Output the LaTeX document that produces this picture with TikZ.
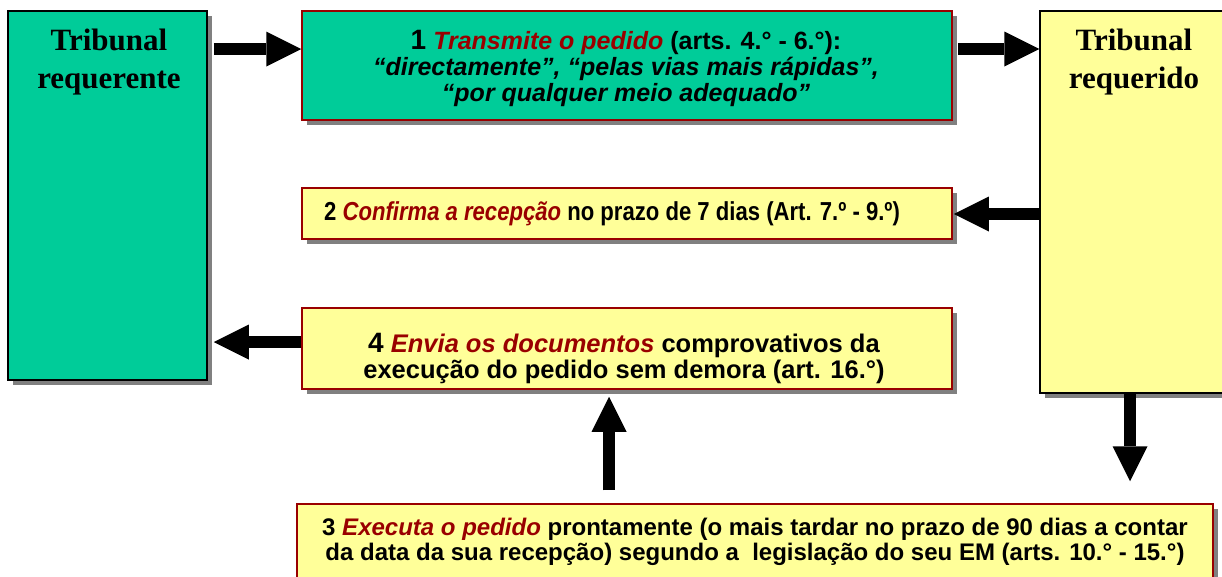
\documentclass[tikz,border=0pt]{standalone}
\usepackage{fontspec}
\setmainfont{Liberation Serif}
\setsansfont{Liberation Sans}
\newfontfamily\narrowsans[FakeStretch=0.85]{Liberation Sans}
\usetikzlibrary{arrows.meta,shadows}

\definecolor{boxgreen}{RGB}{0,204,153}
\definecolor{boxyellow}{RGB}{255,255,153}
\definecolor{stepred}{RGB}{153,0,0}
\definecolor{shadowgray}{RGB}{128,128,128}
\newcommand{\keyword}[1]{\textcolor{stepred}{\itshape #1}}

\begin{document}
\begin{tikzpicture}[x=1pt, y=-1pt,
    boxshadow/.style={drop shadow={shadow xshift=5pt, shadow yshift=-5pt, fill=shadowgray, opacity=1}},
    court/.style={draw=black, line width=1.5pt, boxshadow, inner sep=0pt},
    stepbox/.style={draw=stepred, line width=1.5pt, fill=boxyellow, boxshadow, inner sep=0pt},
    courttext/.style={font=\bfseries\fontsize{31}{38}\selectfont, align=center},
    steptext/.style={font=\sffamily\bfseries\fontsize{25}{26}\selectfont, align=center},
    blockarrow/.style={line width=12pt, -{Triangle[length=35pt, width=35pt, line width=0pt 0 0]}}]
  \useasboundingbox (0,0) rectangle (1222,576);
  % the two courts
  \node[court, fill=boxgreen, minimum width=199pt, minimum height=369pt] (req) at (107.5,195.5) {};
  \node[court, fill=boxyellow, minimum width=188pt, minimum height=382pt] (reqd) at (1134,202) {};
  \node[courttext] (reqtext) at (109,62) {Tribunal\\requerente};
  \node[courttext] (reqdtext) at (1134,62) {Tribunal\\requerido};
  % the four steps
  \node[stepbox, fill=boxgreen, minimum width=650pt, minimum height=109pt] (pedido) at (627,65.5) {};
  \node[stepbox, minimum width=650pt, minimum height=51pt] (confirma) at (627,213.5) {};
  \node[stepbox, minimum width=650pt, minimum height=81pt] (envia) at (627,348.5) {};
  \node[stepbox, minimum width=916pt, minimum height=86pt] (executa) at (755,547) {};
  \node[steptext] (pedidotext) at (626,68) {{\fontsize{28}{26}\selectfont 1} \keyword{Transmite o pedido} (arts. 4.° - 6.°):\\
    \itshape “directamente”, “pelas vias mais rápidas”,\\
    \itshape “por qualquer meio adequado”};
  \node[steptext, font=\narrowsans\bfseries\fontsize{26}{28}\selectfont] (confirmatext) at (612,213.5) {2 \keyword{Confirma a recepção} no prazo de 7 dias (Art. 7.º - 9.º)};
  \node[steptext, font=\sffamily\bfseries\fontsize{25.5}{26}\selectfont] (enviatext) at (624,359) {{\fontsize{28}{26}\selectfont 4} \keyword{Envia os documentos} comprovativos da\\
    execução do pedido sem demora (art. 16.°)};
  \node[steptext, font=\sffamily\bfseries\fontsize{24}{25}\selectfont] (executatext) at (755,542) {3 \keyword{Executa o pedido} prontamente (o mais tardar no prazo de 90 dias a contar\\
    da data da sua recepção) segundo a \ legislação do seu EM (arts. 10.° - 15.°)};
  % arrows
  \draw[blockarrow] ([xshift=6pt]req.east |- 0,49) -- (pedido.west |- 0,49);
  \draw[blockarrow] ([xshift=5pt]pedido.east |- 0,49) -- (reqd.west |- 0,49);
  \draw[blockarrow] (reqd.west |- 0,214) -- ([xshift=1pt]confirma.east |- 0,214);
  \draw[blockarrow] (envia.west |- 0,342) -- ([xshift=6pt]req.east |- 0,342);
  \draw[blockarrow] ([yshift=13pt]executa.north -| 609,0) -- ([yshift=-7pt]envia.south -| 609,0);
  \draw[blockarrow] (reqd.south -| 1130,0) -- ([yshift=22pt]executa.north -| 1130,0);
\end{tikzpicture}
\end{document}
